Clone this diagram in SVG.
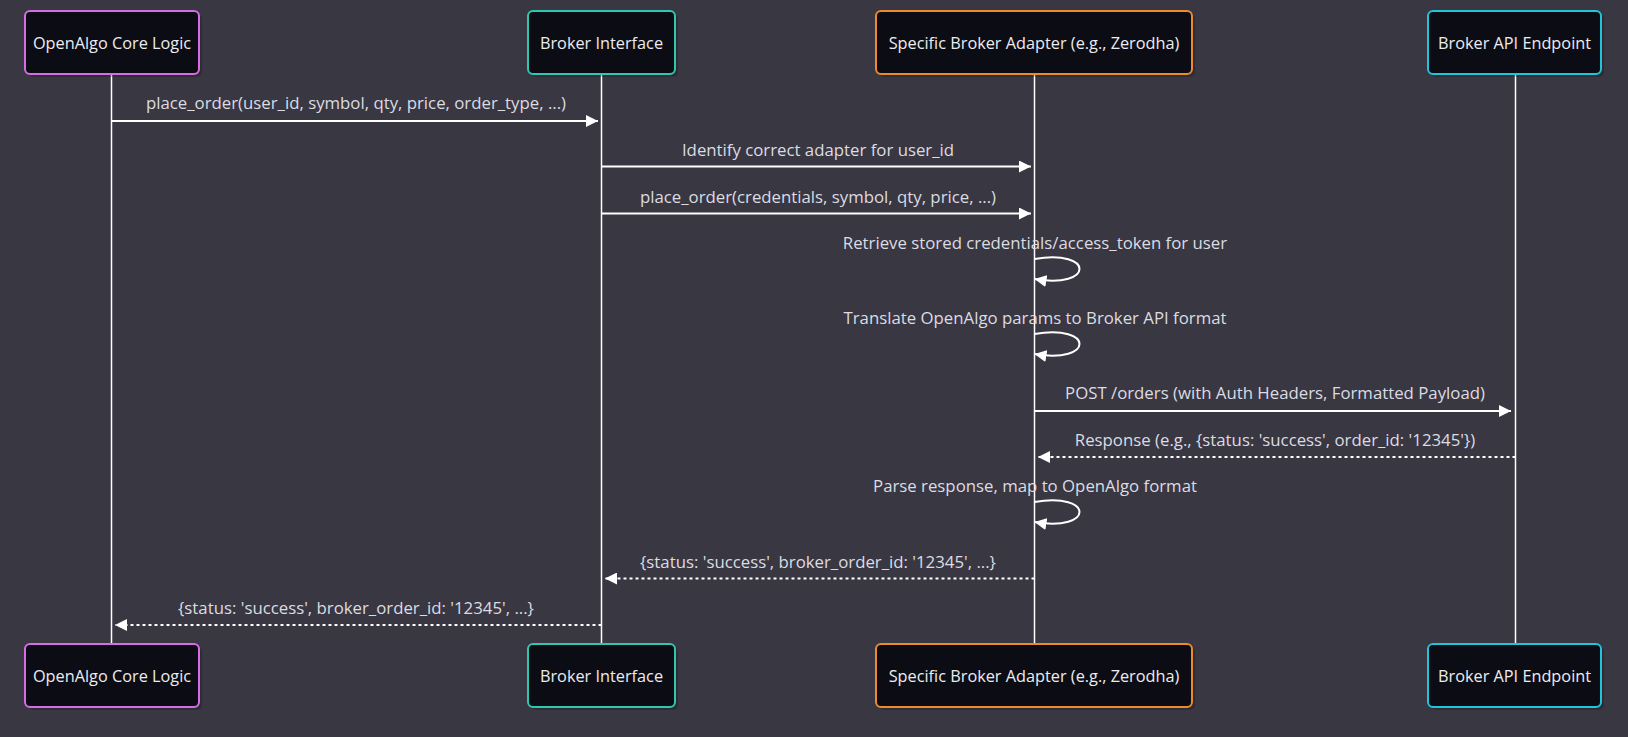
<svg xmlns="http://www.w3.org/2000/svg" width="1628" height="737" viewBox="0 0 1628 737">
<defs>
<style>
.bg{fill:#393742}
.actor{fill:#0c0c14;stroke-width:2}
.shadow{fill:#000;opacity:0.18}
.atext{font-family:"Open Sans","Noto Sans",sans-serif;font-size:16.3px;fill:#ececf0;text-anchor:middle;dominant-baseline:central}
.mtext{font-family:"Open Sans","Noto Sans",sans-serif;font-size:16.8px;fill:#dcdce2;text-anchor:middle;dominant-baseline:central}
.life{stroke:#ffffff;stroke-width:1.5;fill:none}
.msg{stroke:#ffffff;stroke-width:2;fill:none;marker-end:url(#arrow)}
.dot{stroke-dasharray:3,3}
</style>
<marker id="arrow" viewBox="0 0 10 10" refX="10" refY="5" markerWidth="12" markerHeight="12" markerUnits="userSpaceOnUse" orient="auto">
<path d="M0,0 L10,5 L0,10 z" fill="#ffffff"/>
</marker>
</defs>
<rect class="bg" x="0" y="0" width="1628" height="737"/>

<g id="lifelines">
<line class="life" x1="111.5" y1="75" x2="111.5" y2="644"/>
<line class="life" x1="601.5" y1="75" x2="601.5" y2="644"/>
<line class="life" x1="1034.5" y1="75" x2="1034.5" y2="644"/>
<line class="life" x1="1515.5" y1="75" x2="1515.5" y2="644"/>
</g>

<g id="core-top">
<rect class="shadow" x="28" y="14" width="174" height="63" rx="5"/>
<rect class="actor" x="25" y="11" width="174" height="63" rx="5" stroke="#d56ee6"/>
<text class="atext" x="112" y="42.5">OpenAlgo Core Logic</text>
</g>
<g id="iface-top">
<rect class="shadow" x="531" y="14" width="147" height="63" rx="5"/>
<rect class="actor" x="528" y="11" width="147" height="63" rx="5" stroke="#2ec8b0"/>
<text class="atext" x="601.5" y="42.5">Broker Interface</text>
</g>
<g id="adapter-top">
<rect class="shadow" x="879" y="14" width="316" height="63" rx="5"/>
<rect class="actor" x="876" y="11" width="316" height="63" rx="5" stroke="#ec8a2c"/>
<text class="atext" x="1034" y="42.5">Specific Broker Adapter (e.g., Zerodha)</text>
</g>
<g id="api-top">
<rect class="shadow" x="1431" y="14" width="173" height="63" rx="5"/>
<rect class="actor" x="1428" y="11" width="173" height="63" rx="5" stroke="#22c4da"/>
<text class="atext" x="1514.5" y="42.5">Broker API Endpoint</text>
</g>

<g id="core-bottom">
<rect class="shadow" x="28" y="647" width="174" height="63" rx="5"/>
<rect class="actor" x="25" y="644" width="174" height="63" rx="5" stroke="#d56ee6"/>
<text class="atext" x="112" y="675.5">OpenAlgo Core Logic</text>
</g>
<g id="iface-bottom">
<rect class="shadow" x="531" y="647" width="147" height="63" rx="5"/>
<rect class="actor" x="528" y="644" width="147" height="63" rx="5" stroke="#2ec8b0"/>
<text class="atext" x="601.5" y="675.5">Broker Interface</text>
</g>
<g id="adapter-bottom">
<rect class="shadow" x="879" y="647" width="316" height="63" rx="5"/>
<rect class="actor" x="876" y="644" width="316" height="63" rx="5" stroke="#ec8a2c"/>
<text class="atext" x="1034" y="675.5">Specific Broker Adapter (e.g., Zerodha)</text>
</g>
<g id="api-bottom">
<rect class="shadow" x="1431" y="647" width="173" height="63" rx="5"/>
<rect class="actor" x="1428" y="644" width="173" height="63" rx="5" stroke="#22c4da"/>
<text class="atext" x="1514.5" y="675.5">Broker API Endpoint</text>
</g>

<g id="connectors">
<line class="msg" x1="111.5" y1="121" x2="598" y2="121"/>
<line class="msg" x1="601.5" y1="166.5" x2="1031" y2="166.5"/>
<line class="msg" x1="601.5" y1="213.5" x2="1031" y2="213.5"/>
<path class="msg" d="M1034.5,259 C1094.5,249 1094.5,289 1034.5,279"/>
<path class="msg" d="M1034.5,334 C1094.5,324 1094.5,364 1034.5,354"/>
<line class="msg" x1="1034.5" y1="411" x2="1511" y2="411"/>
<line class="msg dot" x1="1515.5" y1="457" x2="1038" y2="457"/>
<path class="msg" d="M1034.5,502 C1094.5,492 1094.5,532 1034.5,522"/>
<line class="msg dot" x1="1034.5" y1="578.5" x2="605" y2="578.5"/>
<line class="msg dot" x1="601.5" y1="625" x2="115" y2="625"/>
</g>

<g id="labels">
<text class="mtext" x="356" y="102">place_order(user_id, symbol, qty, price, order_type, ...)</text>
<text class="mtext" x="818" y="149">Identify correct adapter for user_id</text>
<text class="mtext" x="818" y="196">place_order(credentials, symbol, qty, price, ...)</text>
<text class="mtext" x="1035" y="242">Retrieve stored credentials/access_token for user</text>
<text class="mtext" x="1035" y="317">Translate OpenAlgo params to Broker API format</text>
<text class="mtext" x="1275" y="392">POST /orders (with Auth Headers, Formatted Payload)</text>
<text class="mtext" x="1275" y="439">Response (e.g., {status: 'success', order_id: '12345'})</text>
<text class="mtext" x="1035" y="485">Parse response, map to OpenAlgo format</text>
<text class="mtext" x="818" y="561">{status: 'success', broker_order_id: '12345', ...}</text>
<text class="mtext" x="356" y="607">{status: 'success', broker_order_id: '12345', ...}</text>
</g>
</svg>
